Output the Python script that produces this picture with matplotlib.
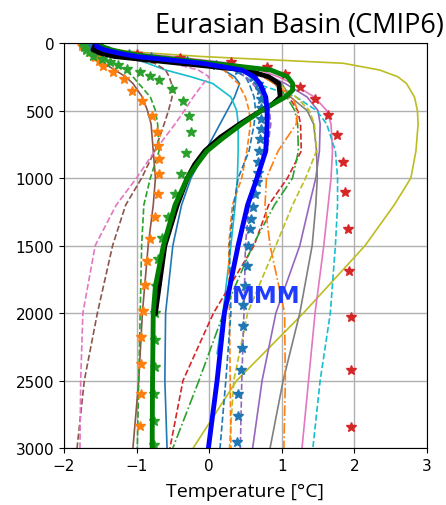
import matplotlib
matplotlib.use("Agg")
import matplotlib.pyplot as plt

# depth levels (m) shared by most model profiles
z = [0, 25, 50, 75, 100, 150, 200, 250, 300, 400, 500, 600, 800, 1000, 1200, 1500, 2000, 2500, 3000]

# model temperature profiles (deg C) on z
t_olive = [-1.55, -1.5, -1.3, -0.8, -0.1, 1.85, 2.35, 2.6, 2.72, 2.83, 2.87, 2.88, 2.85, 2.78, 2.55, 2.15, 1.3, 0.38, -0.22]
t_blue = [-1.6, -1.6, -1.5, -1.3, -0.9, -0.2, 0.2, 0.35, 0.42, 0.35, 0.25, 0.15, -0.05, -0.25, -0.38, -0.5, -0.6, -0.61, -0.58]
t_cyan_dash = [-1.6, -1.55, -1.4, -1.1, -0.6, 0.1, 0.35, 0.5, 0.65, 1.2, 1.48, 1.62, 1.74, 1.77, 1.77, 1.74, 1.67, 1.53, 1.43]
t_pink = [-1.6, -1.55, -1.4, -1.0, -0.5, 0.3, 0.7, 0.95, 1.15, 1.45, 1.62, 1.68, 1.7, 1.68, 1.64, 1.58, 1.46, 1.37, 1.28]
t_purple = [-1.6, -1.55, -1.4, -1.05, -0.6, 0.2, 0.6, 0.85, 1.05, 1.35, 1.5, 1.53, 1.52, 1.47, 1.38, 1.25, 0.92, 0.73, 0.6]
t_gray = [-1.6, -1.55, -1.45, -1.1, -0.7, 0.1, 0.55, 0.85, 1.0, 1.12, 1.35, 1.44, 1.48, 1.49, 1.47, 1.42, 1.25, 1.02, 0.84]
t_olive_dash = [-1.6, -1.55, -1.4, -1.05, -0.6, 0.2, 0.6, 0.8, 0.95, 1.2, 1.38, 1.45, 1.48, 1.33, 1.15, 0.92, 0.53, 0.34, 0.28]
t_red_dash = [-1.6, -1.55, -1.45, -1.1, -0.7, 0.1, 0.5, 0.75, 0.9, 1.1, 1.22, 1.26, 1.27, 1.08, 0.82, 0.62, 0.06, -0.36, -0.54]
t_green_dd = [-1.6, -1.55, -1.45, -1.1, -0.7, 0.1, 0.5, 0.75, 0.9, 1.07, 1.18, 1.22, 1.23, 1.15, 0.9, 0.6, 0.2, -0.14, -0.5]
t_orange_dd = [-1.6, -1.55, -1.45, -1.1, -0.7, 0.1, 0.5, 0.75, 0.9, 1.15, 1.22, 1.2, 0.95, 0.79, 0.77, 0.84, 1.04, 1.05, 1.03]
t_orange_dash = [-1.6, -1.55, -1.45, -1.15, -0.8, -0.1, 0.2, 0.3, 0.4, 0.5, 0.55, 0.57, 0.52, 0.45, 0.32, 0.27, 0.28, 0.29, 0.3]
t_blue_dash = [-1.6, -1.55, -1.45, -1.15, -0.8, 0.0, 0.35, 0.5, 0.55, 0.62, 0.64, 0.62, 0.55, 0.4, 0.34, 0.28, 0.3, 0.23, 0.15]
t_purple_dash = [-1.6, -1.55, -1.45, -1.15, -0.8, 0.0, 0.35, 0.5, 0.6, 0.75, 0.83, 0.85, 0.8, 0.65, 0.55, 0.5, 0.48, 0.45, 0.43]
t_brown = [-1.7, -1.7, -1.68, -1.65, -1.6, -1.45, -1.3, -1.15, -1.05, -0.92, -0.85, -0.8, -0.77, -0.74, -0.77, -0.84, -0.92, -0.97, -1.05]
t_brown_dash = [-1.7, -1.7, -1.65, -1.5, -1.3, -0.75, -0.6, -0.55, -0.52, -0.51, -0.56, -0.62, -0.75, -0.93, -1.15, -1.33, -1.54, -1.72, -1.82]
t_pink_dash = [-1.65, -1.65, -1.55, -1.3, -1.0, -0.5, -0.15, 0.0, -0.08, -0.22, -0.34, -0.47, -0.75, -1.0, -1.28, -1.57, -1.74, -1.77, -1.78]
t_green_dash = [-1.72, -1.72, -1.7, -1.6, -1.5, -1.3, -1.15, -1.05, -0.97, -0.81, -0.74, -0.71, -0.69, -0.81, -0.9, -0.93, -0.95, -0.97, -0.99]
t_mmm = [-1.55, -1.55, -1.45, -1.25, -1.0, -0.1, 0.45, 0.62, 0.7, 0.78, 0.8, 0.8, 0.78, 0.66, 0.53, 0.4, 0.21, 0.11, -0.01]

# shallower model (ends at 2300 m)
z_cyan = [0, 25, 50, 75, 100, 150, 200, 250, 300, 400, 500, 600, 800, 1000, 1200, 1500, 2000, 2300]
t_cyan = [-1.6, -1.55, -1.45, -1.3, -1.15, -0.85, -0.6, -0.25, 0.05, 0.3, 0.38, 0.4, 0.4, 0.39, 0.36, 0.3, 0.19, 0.11]

# models shown with star markers (native levels)
z_red_star = [0, 20, 40, 60, 85, 110, 140, 180, 230, 326, 415, 533, 681, 881, 1104, 1378, 1689, 2030, 2422, 2844]
t_red_star = [-1.6, -1.6, -1.55, -1.4, -1.0, -0.4, 0.3, 0.8, 1.05, 1.25, 1.46, 1.64, 1.76, 1.85, 1.87, 1.91, 1.93, 1.95, 1.95, 1.95]

z_orange_star = [0, 10, 20, 40, 67, 100, 130, 170, 215, 267, 355, 430, 540, 660, 760, 860, 970, 1118, 1290, 1452, 1615, 1793, 1985, 2178, 2378, 2600, 2837]
t_orange_star = [-1.75, -1.75, -1.75, -1.7, -1.64, -1.57, -1.52, -1.46, -1.32, -1.18, -1.06, -0.92, -0.79, -0.72, -0.7, -0.69, -0.69, -0.7, -0.74, -0.81, -0.85, -0.88, -0.91, -0.94, -0.94, -0.94, -0.95]

z_green_star = [0, 15, 30, 50, 70, 96, 120, 141, 165, 193, 215, 244, 274, 340, 430, 540, 660, 815, 970, 1118, 1290, 1445, 1600, 1800, 2000, 2200, 2400, 2600, 2800, 2980]
t_green_star = [-1.7, -1.72, -1.72, -1.7, -1.65, -1.6, -1.48, -1.36, -1.25, -1.13, -0.95, -0.81, -0.69, -0.51, -0.36, -0.28, -0.25, -0.32, -0.39, -0.47, -0.56, -0.65, -0.7, -0.73, -0.74, -0.75, -0.75, -0.76, -0.76, -0.76]

z_blue_star = [0, 20, 40, 60, 80, 100, 130, 160, 200, 250, 300, 350, 415, 480, 560, 640, 711, 800, 880, 960,
               1030, 1120, 1215, 1300, 1378, 1504, 1650, 1800, 1940, 2096, 2259, 2422, 2600, 2763, 2955]
t_blue_star = [-1.6, -1.6, -1.55, -1.4, -1.1, -0.8, -0.3, 0.1, 0.4, 0.6, 0.68, 0.7, 0.71, 0.72, 0.72, 0.71, 0.7, 0.69, 0.68, 0.67,
               0.66, 0.63, 0.61, 0.58, 0.56, 0.54, 0.52, 0.5, 0.47, 0.47, 0.45, 0.44, 0.4, 0.4, 0.39]

# observations (thick black and green)
z_obs1 = [0, 25, 50, 75, 100, 150, 200, 250, 300, 400, 450, 500, 600, 700, 800, 900, 1000, 1200, 1500, 2000]
t_obs1 = [-1.55, -1.58, -1.6, -1.5, -1.3, -0.4, 0.5, 0.82, 0.96, 0.98, 0.88, 0.72, 0.42, 0.15, -0.06, -0.2, -0.3, -0.44, -0.61, -0.74]
z_obs2 = [0, 25, 50, 75, 100, 150, 200, 250, 300, 350, 400, 500, 600, 700, 800, 900, 1000, 1200, 1500, 1800, 2000, 2500, 3000]
t_obs2 = [-1.5, -1.48, -1.35, -1.15, -0.85, 0.05, 0.85, 1.08, 1.15, 1.15, 1.05, 0.72, 0.45, 0.2, -0.03, -0.17, -0.3, -0.47, -0.63, -0.74, -0.77, -0.78, -0.785]

xticks = [-2, -1, 0, 1, 2, 3]
yticks = [0, 500, 1000, 1500, 2000, 2500, 3000]


def main():
    fig = plt.figure(figsize=(4.46, 5.06), dpi=100)
    ax = fig.add_axes([0.1435, 0.1126, 0.8135, 0.8004])

    lw = 1.2
    # thin model lines
    ax.plot(t_blue, z, '-', color='tab:blue', lw=lw)
    ax.plot(t_cyan, z_cyan, '-', color='tab:cyan', lw=lw)
    ax.plot(t_olive, z, '-', color='tab:olive', lw=lw)
    ax.plot(t_pink, z, '-', color='tab:pink', lw=lw)
    ax.plot(t_purple, z, '-', color='tab:purple', lw=lw)
    ax.plot(t_gray, z, '-', color='tab:gray', lw=lw)
    ax.plot(t_brown, z, '-', color='tab:brown', lw=lw)
    ax.plot(t_cyan_dash, z, '--', color='tab:cyan', lw=lw)
    ax.plot(t_olive_dash, z, '--', color='tab:olive', lw=lw)
    ax.plot(t_red_dash, z, '--', color='tab:red', lw=lw)
    ax.plot(t_orange_dash, z, '--', color='tab:orange', lw=lw)
    ax.plot(t_blue_dash, z, '--', color='tab:blue', lw=lw)
    ax.plot(t_purple_dash, z, '--', color='tab:purple', lw=lw)
    ax.plot(t_brown_dash, z, '--', color='tab:brown', lw=lw)
    ax.plot(t_pink_dash, z, '--', color='tab:pink', lw=lw)
    ax.plot(t_green_dash, z, '--', color='tab:green', lw=lw)
    ax.plot(t_green_dd, z, '-.', color='tab:green', lw=lw)
    ax.plot(t_orange_dd, z, '-.', color='tab:orange', lw=lw)

    # star-marker models
    ax.plot(t_red_star, z_red_star, '*', color='tab:red', ms=7)
    ax.plot(t_orange_star, z_orange_star, '*', color='tab:orange', ms=7)
    ax.plot(t_green_star, z_green_star, '*', color='tab:green', ms=7)
    ax.plot(t_blue_star, z_blue_star, '*', color='tab:blue', ms=7)

    # observations and multi-model mean
    ax.plot(t_obs1, z_obs1, '-', color='black', lw=3.5)
    ax.plot(t_obs2, z_obs2, '-', color='green', lw=3.5)
    ax.plot(t_mmm, z, '-', color='blue', lw=3.5)

    ax.text(0.32, 1918, 'MMM', color='#1f3cff', fontsize=16.5, fontweight='bold',
            ha='left', va='baseline')

    ax.set_xlim(-2, 3)
    ax.set_ylim(3000, 0)
    ax.set_xticks(xticks)
    ax.set_yticks(yticks)
    tick_font = ['Liberation Sans Narrow', 'DejaVu Sans']
    for lab in ax.get_xticklabels() + ax.get_yticklabels():
        lab.set_family(tick_font)
        lab.set_fontsize(11)
    ax.grid(True, color='#b0b0b0', lw=1)
    ax.set_axisbelow(True)

    title_font = ['Open Sans', 'DejaVu Sans']
    ax.set_xlabel('Temperature [°C]', fontsize=14, family=title_font, labelpad=7)

    # title in two parts, right-aligned to the figure edge
    t2 = fig.text(0.998, 0.935, '(CMIP6)', fontsize=19.5, family=title_font,
                  ha='right', va='baseline')
    fig.canvas.draw()
    bb = t2.get_window_extent()
    x_left = bb.x0 / fig.bbox.width - 0.015
    fig.text(x_left, 0.935, 'Eurasian Basin', fontsize=19.5, family=title_font,
             ha='right', va='baseline')

    fig.savefig('out.png', dpi=100)


if __name__ == '__main__':
    main()
